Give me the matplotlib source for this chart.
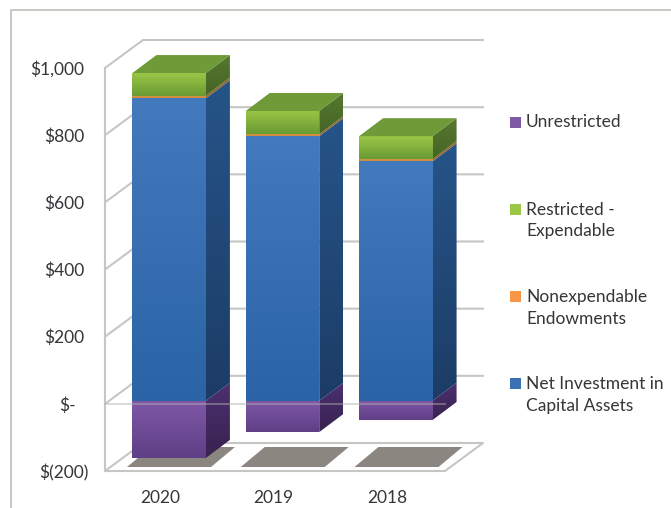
import matplotlib
matplotlib.use('Agg')
import numpy as np
import matplotlib.pyplot as plt
from matplotlib.colors import LinearSegmentedColormap
from matplotlib.patches import Polygon, Rectangle
from matplotlib.transforms import ScaledTranslation

plt.rcParams['font.family'] = ['Lato', 'DejaVu Sans']

years = ['2020', '2019', '2018']
net_investment = [901, 788, 713]
nonexpendable = [8, 6, 7]
restricted = [67, 69, 68]
unrestricted = [-170, -93, -57]

tick_values = [-200, 0, 200, 400, 600, 800, 1000]
tick_labels = ['$(200)', '$-', '$200', '$400', '$600', '$800', '$1,000']

legend_names = ['Unrestricted', 'Restricted -\nExpendable',
                'Nonexpendable\nEndowments', 'Net Investment in\nCapital Assets']

W, H = 671, 508
grid_col = '#c6c6c2'
txt_col = '#36363a'

# colours run top to bottom of each face
front_cols = {
    'blue': ('#4379bd', '#2a64a6'),
    'orange': ('#d99a4e', '#d08a3c'),
    'green': ('#9ac746', '#6a9a34'),
    'purple': ('#7f58a6', '#5f3f86'),
}
side_cols = {
    'blue': ('#265488', '#1c3c66'),
    'orange': ('#8f6a34', '#8f6a34'),
    'green': ('#56782d', '#456428'),
    'purple': ('#4c3070', '#38234f'),
}
top_col = '#6f9a38'

fig = plt.figure(figsize=(W / 100, H / 100), dpi=100)
bg = fig.add_axes([0, 0, 1, 1])
bg.set(xlim=(0, W), ylim=(H, 0))
bg.axis('off')

# outer frame, open to the right and bottom
bg.plot([11, 11, W], [H, 10, 10], color='#c8c8c2', lw=1.4)

# main axes sits on the front plane of the 3D box
x0, x1, y_top, y_bot = 105, 445, 68, 471
ax = fig.add_axes([x0 / W, 1 - y_bot / H, (x1 - x0) / W, (y_bot - y_top) / H])
ax.patch.set_alpha(0)
for s in ax.spines.values():
    s.set_visible(False)

px_x = 3 / (x1 - x0)
px_y = 1200 / (y_bot - y_top)


def gradient_poly(verts, cols, z):
    verts = np.array(verts)
    cmap = LinearSegmentedColormap.from_list('face', cols)
    img = ax.imshow(np.linspace(0, 1, 64).reshape(-1, 1), cmap=cmap, aspect='auto',
                    origin='upper', zorder=z,
                    extent=(verts[:, 0].min(), verts[:, 0].max(),
                            verts[:, 1].min(), verts[:, 1].max()))
    clip = Polygon(verts, closed=True, transform=ax.transData, fc='none', ec='none',
                   clip_on=False)
    ax.add_patch(clip)
    img.set_clip_path(clip)
    # faces can rise above the top of the axes box
    img.set_clip_box(fig.bbox)


# walls and floor
wall_dx = 38 * px_x
wall_dy = 28 * px_y
xl, xr = -0.5, 2.5
for v in tick_values[1:]:
    ax.plot([xl, xl + wall_dx, xr + wall_dx], [v, v + wall_dy, v + wall_dy],
            color=grid_col, lw=1.5, zorder=1, clip_on=False)
ax.plot([xl, xl, xr, xr + wall_dx, xl + wall_dx, xl],
        [1000, -200, -200, -200 + wall_dy, -200 + wall_dy, -200],
        color=grid_col, lw=1.5, zorder=1, clip_on=False)

# bar shadows on the floor
shadow_w = 84 * px_x
shadow_dx = 24 * px_x
shadow_h = 20 * px_y
shadow_y = -200 + 4 * px_y
for i in range(len(years)):
    sx = i - 0.5 + (22 + i * 0.4) * px_x
    ax.add_patch(Polygon([(sx, shadow_y), (sx + shadow_w, shadow_y),
                          (sx + shadow_w + shadow_dx, shadow_y + shadow_h),
                          (sx + shadow_dx, shadow_y + shadow_h)],
                         fc='#8b8780', ec='none', zorder=2, clip_on=False))

# the bars sit slightly back from the front plane
bar_w = 73.5 * px_x
bar_dx = 24 * px_x
bar_dy = 18 * px_y
base = 3 * px_y
shift = 7.5 * px_x

for i in range(len(years)):
    left = i + shift - bar_w / 2
    right = left + bar_w
    b0 = net_investment[i]
    b1 = b0 + nonexpendable[i]
    b2 = b1 + restricted[i]
    segments = [('purple', unrestricted[i], 0), ('blue', 0, b0),
                ('orange', b0, b1), ('green', b1, b2)]
    for name, low, high in segments:
        low, high = low + base, high + base
        gradient_poly([(right, low), (right + bar_dx, low + bar_dy),
                       (right + bar_dx, high + bar_dy), (right, high)],
                      side_cols[name], 4)
        gradient_poly([(left, low), (right, low), (right, high), (left, high)],
                      front_cols[name], 5)
    ax.add_patch(Polygon([(left, b2 + base), (right, b2 + base),
                          (right + bar_dx, b2 + base + bar_dy),
                          (left + bar_dx, b2 + base + bar_dy)],
                         fc=top_col, ec='none', zorder=5, clip_on=False))

# zero line shows faintly through the bars
ax.plot([xl, xr], [0, 0], color='#b0b0ac', lw=1.2, alpha=0.55, zorder=6, clip_on=False)

ax.set_xlim(-0.5, 2.5)
ax.set_ylim(-200, 1000)
ax.set_yticks(tick_values, tick_labels)
ax.set_xticks(range(len(years)), years)
ax.tick_params(length=0, labelsize=12.5, labelcolor=txt_col)
ax.tick_params(axis='x', pad=13.5)

# accounting style labels do not share a right edge
y_pads = [11.5, 21, 15, 15, 15, 15, 15]
for tick, pad in zip(ax.yaxis.get_major_ticks(), y_pads):
    tick.set_pad(pad)
for lab in ax.get_xticklabels():
    lab.set_transform(lab.get_transform() + ScaledTranslation(-1.5 / 100, 0, fig.dpi_scale_trans))

# hand placed legend, entries are spread down the right side
marker_y = [122, 209, 296, 383]
text_y = [122, 220.5, 308, 395]
legend_cols = [front_cols['purple'][0], front_cols['green'][0], '#f79646', '#3a70b4']
for name, my, ty, col in zip(legend_names, marker_y, text_y, legend_cols):
    bg.add_patch(Rectangle((510, my - 5.5), 11, 11, fc=col, ec='none'))
    bg.text(526, ty, name, va='center', ha='left', fontsize=12.5, color=txt_col, linespacing=1.42)

fig.savefig('out.png', dpi=100)
